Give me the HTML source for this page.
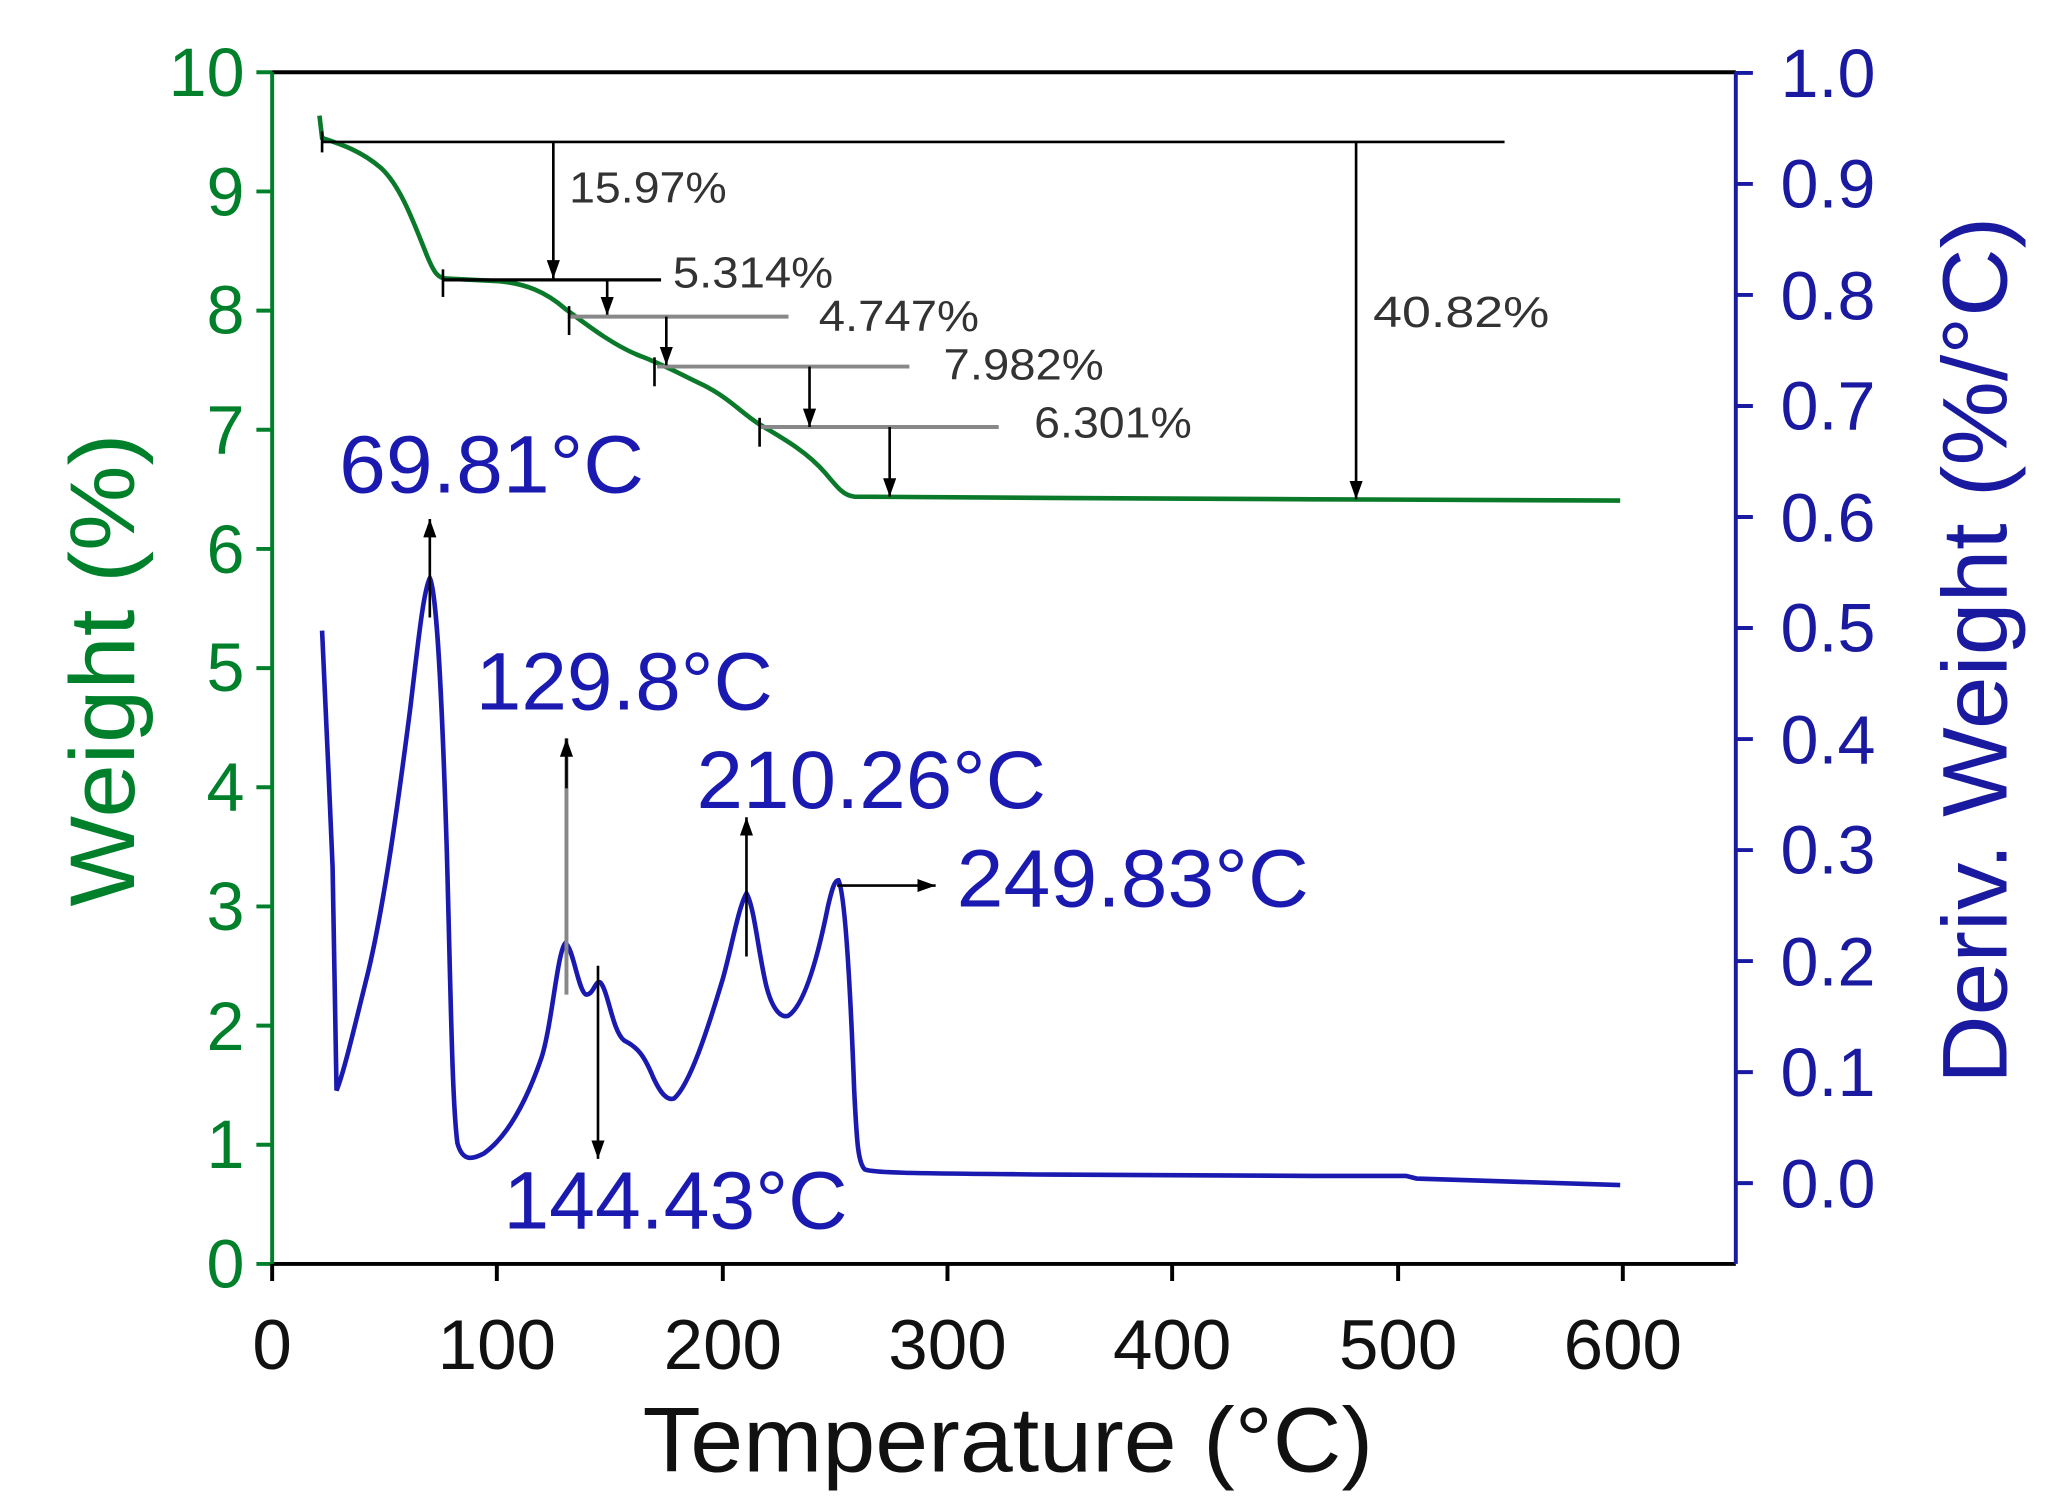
<!DOCTYPE html>
<html><head><meta charset="utf-8"><style>html,body{margin:0;padding:0;background:#fff;}svg{display:block;}</style></head>
<body>
<svg width="2050" height="1507" viewBox="0 0 1560 1147" xmlns="http://www.w3.org/2000/svg" font-family="Liberation Sans, sans-serif">
<defs>
<marker id="ah" markerWidth="14" markerHeight="10" refX="14" refY="5" orient="auto" markerUnits="userSpaceOnUse" viewBox="0 0 14 10"><path d="M0,0 L14,5 L0,10 Z" fill="#000"/></marker>
</defs>
<rect width="1560" height="1147" fill="#fff"/>
<line x1="207" y1="55" x2="1321" y2="55" stroke="#000" stroke-width="3"/>
<line x1="207" y1="962" x2="1321" y2="962" stroke="#000" stroke-width="3"/>
<line x1="207" y1="55" x2="207" y2="962" stroke="#00802b" stroke-width="3"/>
<line x1="1321" y1="55" x2="1321" y2="962" stroke="#1a1aa0" stroke-width="3"/>
<g stroke="#00802b" stroke-width="3">
<line x1="195" y1="55" x2="207" y2="55"/><line x1="195" y1="145.7" x2="207" y2="145.7"/><line x1="195" y1="236.4" x2="207" y2="236.4"/><line x1="195" y1="327.1" x2="207" y2="327.1"/><line x1="195" y1="417.8" x2="207" y2="417.8"/><line x1="195" y1="508.5" x2="207" y2="508.5"/><line x1="195" y1="599.2" x2="207" y2="599.2"/><line x1="195" y1="689.9" x2="207" y2="689.9"/><line x1="195" y1="780.6" x2="207" y2="780.6"/><line x1="195" y1="871.3" x2="207" y2="871.3"/><line x1="195" y1="962" x2="207" y2="962"/>
</g>
<g fill="#00802b" font-size="52" text-anchor="end">
<text x="186" y="73">10</text><text x="186" y="164">9</text><text x="186" y="254">8</text><text x="186" y="345">7</text><text x="186" y="436">6</text><text x="186" y="526">5</text><text x="186" y="617">4</text><text x="186" y="708">3</text><text x="186" y="799">2</text><text x="186" y="889">1</text><text x="186" y="980">0</text>
</g>
<g stroke="#1a1aa0" stroke-width="3">
<line x1="1321" y1="55.5" x2="1334" y2="55.5"/><line x1="1321" y1="140" x2="1334" y2="140"/><line x1="1321" y1="224.5" x2="1334" y2="224.5"/><line x1="1321" y1="309" x2="1334" y2="309"/><line x1="1321" y1="393.5" x2="1334" y2="393.5"/><line x1="1321" y1="478" x2="1334" y2="478"/><line x1="1321" y1="562.5" x2="1334" y2="562.5"/><line x1="1321" y1="647" x2="1334" y2="647"/><line x1="1321" y1="731.5" x2="1334" y2="731.5"/><line x1="1321" y1="816" x2="1334" y2="816"/><line x1="1321" y1="900.5" x2="1334" y2="900.5"/>
</g>
<g fill="#1a1aa0" font-size="52">
<text x="1355" y="74">1.0</text><text x="1355" y="158">0.9</text><text x="1355" y="243">0.8</text><text x="1355" y="327">0.7</text><text x="1355" y="412">0.6</text><text x="1355" y="496">0.5</text><text x="1355" y="581">0.4</text><text x="1355" y="665">0.3</text><text x="1355" y="750">0.2</text><text x="1355" y="834">0.1</text><text x="1355" y="919">0.0</text>
</g>
<g stroke="#000" stroke-width="3">
<line x1="207" y1="962" x2="207" y2="975"/><line x1="378" y1="962" x2="378" y2="975"/><line x1="550" y1="962" x2="550" y2="975"/><line x1="721" y1="962" x2="721" y2="975"/><line x1="892" y1="962" x2="892" y2="975"/><line x1="1064" y1="962" x2="1064" y2="975"/><line x1="1235" y1="962" x2="1235" y2="975"/>
</g>
<g fill="#111" font-size="54" text-anchor="middle">
<text x="207" y="1042">0</text><text x="378" y="1042">100</text><text x="550" y="1042">200</text><text x="721" y="1042">300</text><text x="892" y="1042">400</text><text x="1064" y="1042">500</text><text x="1235" y="1042">600</text>
</g>
<text x="767" y="1120" font-size="70" fill="#111" text-anchor="middle" textLength="556" lengthAdjust="spacingAndGlyphs">Temperature (°C)</text>
<text transform="translate(102,510) rotate(-90)" font-size="70" fill="#00802b" text-anchor="middle" textLength="360" lengthAdjust="spacingAndGlyphs">Weight (%)</text>
<text transform="translate(1527,495) rotate(-90)" font-size="70" fill="#1a1aa0" text-anchor="middle" textLength="660" lengthAdjust="spacingAndGlyphs">Deriv. Weight (%/°C)</text>

<path d="M243,88 L245,105 C260,110 275,115 290,128 C305,142 315,170 325,195 C330,207 333,212 340,212 L380,214 C400,216 415,222 430,235 C450,250 470,265 490,272 C510,280 520,286 535,293 C555,303 565,315 578,323 C600,336 615,345 628,360 C638,372 642,377 650,378 L800,379 L1000,380 L1233,381" fill="none" stroke="#0a7a2a" stroke-width="3.5"/>

<g stroke="#000" stroke-width="2" fill="none">
<line x1="245" y1="108" x2="1145" y2="108"/>
<line x1="245" y1="100" x2="245" y2="116"/>
<line x1="421" y1="108" x2="421" y2="212" marker-end="url(#ah)"/>
<line x1="337" y1="213" x2="503" y2="213" stroke-width="2.5"/>
<line x1="337" y1="205" x2="337" y2="226"/>
<line x1="462" y1="213" x2="462" y2="240" marker-end="url(#ah)"/>
<line x1="1032" y1="108" x2="1032" y2="380" marker-end="url(#ah)"/>
</g>
<g stroke="#888" stroke-width="3" fill="none">
<line x1="432" y1="241" x2="600" y2="241"/>
<line x1="500" y1="279" x2="692" y2="279"/>
<line x1="578" y1="325" x2="760" y2="325"/>
</g>
<g stroke="#000" stroke-width="2" fill="none">
<line x1="433" y1="233" x2="433" y2="255"/>
<line x1="498" y1="272" x2="498" y2="294"/>
<line x1="578" y1="318" x2="578" y2="340"/>
<line x1="507" y1="241" x2="507" y2="278" marker-end="url(#ah)"/>
<line x1="616" y1="279" x2="616" y2="325" marker-end="url(#ah)"/>
<line x1="677" y1="325" x2="677" y2="378" marker-end="url(#ah)"/>
</g>
<g fill="#333" font-size="33">
<text x="433" y="154" textLength="120" lengthAdjust="spacingAndGlyphs">15.97%</text>
<text x="512" y="219" textLength="122" lengthAdjust="spacingAndGlyphs">5.314%</text>
<text x="623" y="252" textLength="122" lengthAdjust="spacingAndGlyphs">4.747%</text>
<text x="718" y="289" textLength="122" lengthAdjust="spacingAndGlyphs">7.982%</text>
<text x="787" y="333" textLength="120" lengthAdjust="spacingAndGlyphs">6.301%</text>
<text x="1045" y="249" textLength="134" lengthAdjust="spacingAndGlyphs">40.82%</text>
</g>

<path d="M245,480 L250,590 L253,660 L256,830 C262,815 270,780 280,740 C292,690 303,610 312,540 C318,490 322,450 327,440 C332,450 336,520 340,650 C343,760 344,840 348,870 C352,885 360,882 368,878 C385,866 400,840 412,805 C420,780 424,725 430,718 C436,720 440,755 446,757 C452,757 453,745 457,748 C463,755 466,785 475,792 C485,797 490,803 497,820 C503,833 508,838 513,836 C525,825 538,785 550,745 C557,720 562,690 568,680 C574,690 577,725 583,750 C588,770 595,775 600,773 C612,765 622,730 630,690 C633,677 635,670 638,670 C643,680 647,750 650,830 C652,870 653,885 658,890 C665,893 700,893 800,894 L1000,895 L1070,895 L1078,897 L1233,902" fill="none" stroke="#1a1ab0" stroke-width="3.5"/>

<g stroke="#000" stroke-width="2" fill="none">
<line x1="327" y1="470" x2="327" y2="395" marker-end="url(#ah)"/>
<line x1="431" y1="757" x2="431" y2="562" stroke="#888" stroke-width="3"/>
<line x1="431" y1="600" x2="431" y2="562" marker-end="url(#ah)"/>
<line x1="455" y1="735" x2="455" y2="882" marker-end="url(#ah)"/>
<line x1="568" y1="728" x2="568" y2="622" marker-end="url(#ah)"/>
<line x1="637" y1="674" x2="712" y2="674" marker-end="url(#ah)"/>
</g>
<g fill="#1a1ab0" font-size="62">
<text x="258" y="375" textLength="232" lengthAdjust="spacingAndGlyphs">69.81°C</text>
<text x="362" y="540" textLength="226" lengthAdjust="spacingAndGlyphs">129.8°C</text>
<text x="383" y="935" textLength="262" lengthAdjust="spacingAndGlyphs">144.43°C</text>
<text x="530" y="615" textLength="266" lengthAdjust="spacingAndGlyphs">210.26°C</text>
<text x="728" y="690" textLength="268" lengthAdjust="spacingAndGlyphs">249.83°C</text>
</g>
</svg>
</body></html>
